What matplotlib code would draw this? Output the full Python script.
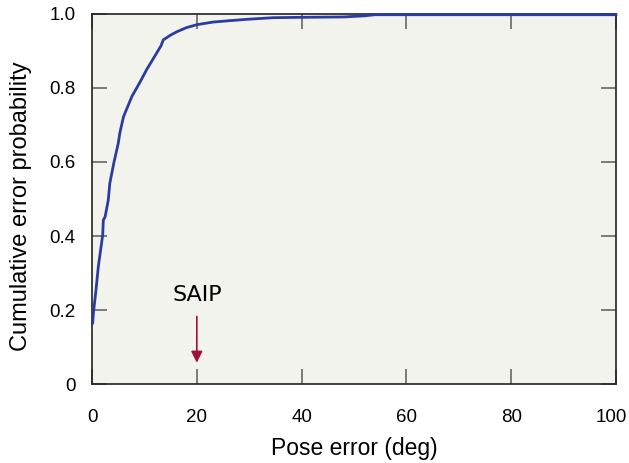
import matplotlib.pyplot as plt
import matplotlib.transforms as mtransforms

# cumulative error curve
pose_err = [0.13, 0.25, 0.76, 1.2, 2.04, 2.16, 2.5, 3.1, 3.4, 4.2, 5.0, 5.3,
            6.0, 7.6, 9.2, 10.4, 12.7, 13.2, 13.6, 15.0, 16.2, 18.0, 20.0,
            23.0, 26.3, 30.0, 34.6, 40.0, 48.0, 52.0, 54.0, 100.0]
cum_prob = [0.165, 0.19, 0.254, 0.317, 0.403, 0.443, 0.452, 0.497, 0.543,
            0.60, 0.65, 0.678, 0.722, 0.777, 0.817, 0.849, 0.903, 0.915, 0.93,
            0.943, 0.952, 0.963, 0.971, 0.978, 0.982, 0.986, 0.99, 0.991,
            0.992, 0.995, 0.998, 0.998]

xticks = [0, 20, 40, 60, 80, 100]
yticks = [0, 0.2, 0.4, 0.6, 0.8, 1.0]
ytick_labels = ['0', '0.2', '0.4', '0.6', '0.8', '1.0']

marker_x = 20
marker_label = 'SAIP'

plt.rcParams['font.family'] = ['Liberation Sans', 'DejaVu Sans']

fig = plt.figure(figsize=(6.29, 4.63), dpi=100)
ax = fig.add_axes([0.1463, 0.1706, 0.8330, 0.7992])
ax.set_facecolor('#f3f3ee')

ax.plot(pose_err, cum_prob, color='#2b3ca0', lw=2.0, clip_on=False, zorder=3)

ax.set_xlim(0, 100)
ax.set_ylim(0, 1.0)
ax.set_xticks(xticks)
ax.set_xticklabels([str(t) for t in xticks])
ax.set_yticks(yticks)
ax.set_yticklabels(ytick_labels)
ax.tick_params(direction='in', length=10.5, width=1.2, color='#666666',
               top=True, right=True, labelsize=13.5)
ax.tick_params(axis='y', pad=12)
ax.tick_params(axis='x', pad=18)
for s in ax.spines.values():
    s.set_linewidth(1.2)
    s.set_color('#222222')

# pull the last x label ("100") in a little so it stays inside the figure
last = ax.get_xticklabels()[-1]
last.set_transform(last.get_transform() +
                   mtransforms.ScaledTranslation(-5 / 100, 0, fig.dpi_scale_trans))

ax.set_xlabel('Pose error (deg)', fontsize=16.5, labelpad=8)
ax.set_ylabel('Cumulative error probability', fontsize=17)
ax.yaxis.set_label_coords(-0.1145, 0.481)

# SAIP marker arrow
ax.annotate('', xy=(marker_x, 0.05), xytext=(marker_x, 0.19),
            arrowprops=dict(arrowstyle='-|>', color='#a0103a', lw=1.2,
                            mutation_scale=17))
ax.text(marker_x, 0.24, marker_label, ha='center', va='center', fontsize=16,
        family='DejaVu Sans')

fig.savefig('out.png', dpi=100)
